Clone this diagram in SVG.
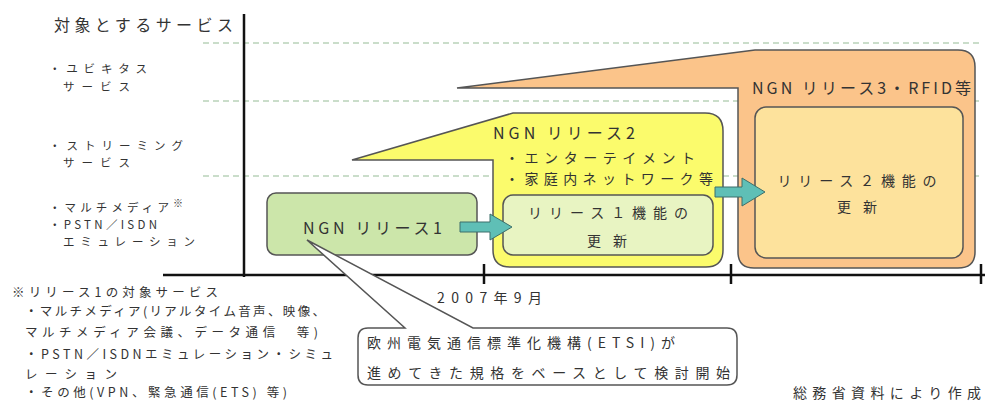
<svg xmlns="http://www.w3.org/2000/svg" width="985" height="403" viewBox="0 0 985 403">
<style>
  text { font-family: "Noto Sans CJK JP", "Noto Sans", sans-serif; fill: #333; dominant-baseline: central; }
  .lbl { font-size: 14px; }
  .side { font-size: 11.5px; }
  .note { font-size: 12.5px; }
  .big { font-size: 16px; }
  .grid { stroke: #b9d2b9; stroke-width: 1.5; stroke-dasharray: 6 4; fill: none; }
  .axis { stroke: #111; stroke-width: 2.5; fill: none; }
  .edge { stroke: #555; stroke-width: 1.5; }
  .arrow { fill: #5fbfb6; stroke: #3d6f6a; stroke-width: 1; }
</style>
<rect width="985" height="403" fill="#fff"/>

<g id="grid">
  <line class="grid" x1="203" y1="43" x2="980" y2="43"/>
  <line class="grid" x1="203" y1="101" x2="980" y2="101"/>
  <line class="grid" x1="203" y1="176" x2="980" y2="176"/>
</g>

<g id="axes">
  <line class="axis" x1="244" y1="14" x2="244" y2="277"/>
  <line class="axis" x1="163" y1="275" x2="985" y2="275"/>
  <line class="axis" x1="484" y1="264" x2="484" y2="284"/>
  <line class="axis" x1="731" y1="264" x2="731" y2="284"/>
  <line class="axis" x1="981" y1="264" x2="981" y2="284"/>
</g>

<g id="axis-labels">
  <text class="big" x="54" y="24" textLength="179" lengthAdjust="spacing">対象とするサービス</text>
  <text class="side" x="49" y="68" textLength="98" lengthAdjust="spacing">・ユビキタス</text>
  <text class="side" x="63" y="86" textLength="67" lengthAdjust="spacing">サービス</text>
  <text class="side" x="49" y="145" textLength="134" lengthAdjust="spacing">・ストリーミング</text>
  <text class="side" x="63" y="162" textLength="67" lengthAdjust="spacing">サービス</text>
  <text class="side" x="49" y="207" textLength="134" lengthAdjust="spacing">・マルチメディア<tspan font-size="10" dy="-5">※</tspan></text>
  <text class="side" x="49" y="224" textLength="108" lengthAdjust="spacing">・PSTN／ISDN</text>
  <text class="side" x="63" y="241" textLength="132" lengthAdjust="spacing">エミュレーション</text>
  <text class="lbl" x="437" y="297" textLength="105" lengthAdjust="spacing">2007年9月</text>
</g>

<g id="notes">
  <text class="note" x="12" y="291" textLength="206" lengthAdjust="spacing">※リリース1の対象サービス</text>
  <text class="note" x="25" y="310" textLength="300" lengthAdjust="spacing">・マルチメディア(リアルタイム音声、映像、</text>
  <text class="note" x="25" y="331" textLength="293" lengthAdjust="spacing">マルチメディア会議、データ通信　等)</text>
  <text class="note" x="25" y="353" textLength="308" lengthAdjust="spacing">・PSTN／ISDNエミュレーション・シミュ</text>
  <text class="note" x="25" y="373" textLength="92" lengthAdjust="spacing">レーション</text>
  <text class="note" x="25" y="391" textLength="262" lengthAdjust="spacing">・その他(VPN、緊急通信(ETS) 等)</text>
  <text class="lbl" x="793" y="392" textLength="188" lengthAdjust="spacing">総務省資料により作成</text>
</g>

<g id="release3">
  <path class="edge" fill="#fbc48a" d="M457,88 L755,50 L958,50 Q975,50 975,67 L975,252 Q975,268 958,268 L754,268 Q738,268 738,252 L738,88 Z"/>
  <text class="big" x="752" y="87" textLength="219" lengthAdjust="spacing">NGN リリース3・RFID等</text>
  <rect class="edge" fill="#fde29c" x="755" y="107" width="208" height="151" rx="11"/>
  <text class="lbl" x="857" y="180" text-anchor="middle" textLength="159" lengthAdjust="spacing">リリース２機能の</text>
  <text class="lbl" x="857" y="206" text-anchor="middle" textLength="40" lengthAdjust="spacing">更新</text>
</g>

<g id="release2">
  <path class="edge" fill="#fbfb6c" d="M352,160 L513,113 L705,113 Q723,113 723,131 L723,250 Q723,267 706,267 L510,267 Q493,267 493,250 L493,160 Z"/>
  <text class="big" x="493" y="132" textLength="142" lengthAdjust="spacing">NGN リリース2</text>
  <text class="lbl" x="505" y="157" textLength="190" lengthAdjust="spacing">・エンターテイメント</text>
  <text class="lbl" x="505" y="178" textLength="208" lengthAdjust="spacing">・家庭内ネットワーク等</text>
  <rect class="edge" fill="#e8f4c2" x="503" y="195" width="210" height="60" rx="10"/>
  <text class="lbl" x="608" y="212" text-anchor="middle" textLength="160" lengthAdjust="spacing">リリース１機能の</text>
  <text class="lbl" x="607" y="240" text-anchor="middle" textLength="40" lengthAdjust="spacing">更新</text>
</g>

<g id="release1">
  <rect class="edge" fill="#cce6aa" x="267" y="193" width="210" height="62" rx="9"/>
  <text class="big" x="303" y="227" textLength="139" lengthAdjust="spacing">NGN リリース1</text>
</g>

<g id="connectors">
  <polygon class="arrow" points="460,222 490,222 490,214 512,227 490,240 490,232 460,232"/>
  <polygon class="arrow" points="715,187 742,187 742,178 765,192 742,206 742,197 715,197"/>
</g>

<g id="callout">
  <path class="edge" fill="#fff" d="M368,328 L405,328 L307,240 L473,328 L727,328 Q737,328 737,338 L737,375 Q737,385 727,385 L368,385 Q358,385 358,375 L358,338 Q358,328 368,328 Z"/>
  <text class="lbl" x="367" y="342" textLength="308" lengthAdjust="spacing">欧州電気通信標準化機構(ETSI)が</text>
  <text class="lbl" x="367" y="372" textLength="363" lengthAdjust="spacing">進めてきた規格をベースとして検討開始</text>
</g>
</svg>
